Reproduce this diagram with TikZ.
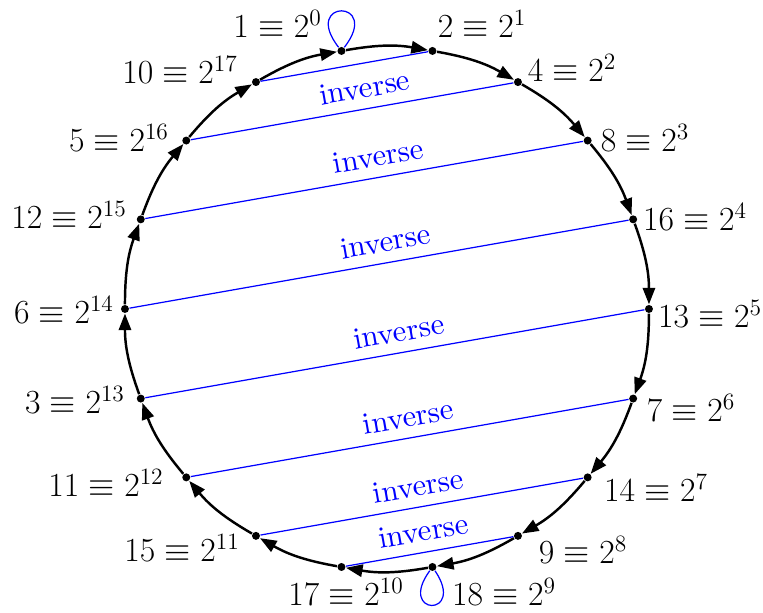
\documentclass[tikz,border=0pt]{standalone}
\usetikzlibrary{arrows.meta}

\begin{document}
\begin{tikzpicture}[x=1cm,y=1cm,>={Triangle[length=5.4pt,width=4pt]},
  dot/.style={circle,fill,inner sep=0pt,minimum size=2.6pt},
  powlabel/.style={font=\huge,scale=0.53,inner sep=0pt},
  inv/.style={blue}]
  \useasboundingbox (-4.431,-3.481) rectangle (4.306,3.538);
  % the powers 2^k on the circle
  \foreach \k in {0,...,17}
    \node[dot] (p\k) at ({100-20*\k}:3) {};
  \foreach \k in {0,...,17}{
    \pgfmathtruncatemacro{\n}{mod(\k+1,18)}
    \draw[->,thick] (p\k) to[bend left=10] (p\n);
  }
  % labels
  \foreach \k/\v/\x/\y in {0/1/-1.254/3.263, 1/2/1.088/3.263, 2/4/2.118/2.760,
      3/8/2.954/1.958, 4/16/3.527/1.053, 5/13/3.699/-0.057, 6/7/3.481/-1.134,
      7/14/3.080/-2.050, 8/9/2.244/-2.760, 9/18/1.340/-3.241, 10/17/-0.469/-3.241,
      11/15/-2.347/-2.737, 12/11/-3.218/-1.992, 13/3/-3.573/-1.042,
      14/6/-3.699/-0.011, 15/12/-3.641/1.076, 16/5/-3.069/1.958, 17/10/-2.370/2.737}
    \node[powlabel] (l\k) at (\x,\y) {$\v\equiv 2^{\k}$};
  % inverse pairs
  \draw[inv] (p17) -- (p1);
  \foreach \a/\b/\p in {16/2/0.55, 15/3/0.54, 14/4/0.52, 13/5/0.515,
      12/6/0.505, 11/7/0.5, 10/8/0.485}
    \draw[inv] (p\a) -- node[pos=\p,above,sloped] {inverse} (p\b);
  % self-inverse
  \draw[inv] (p0) .. controls +(128:0.76) and +(52:0.76) .. (p0);
  \draw[inv] (p9) .. controls +(-126:0.7) and +(-56:0.7) .. (p9);
\end{tikzpicture}
\end{document}
